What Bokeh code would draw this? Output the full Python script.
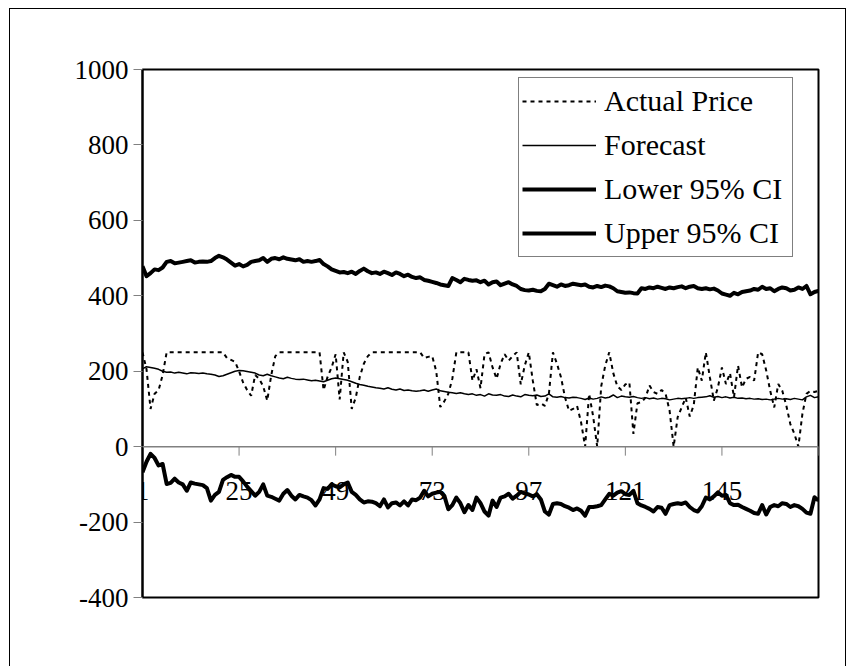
from bokeh.plotting import figure
from bokeh.models import (Range1d, FixedTicker, Legend, LegendItem, Span,
                          ColumnDataSource)
from bokeh.core.properties import value
from bokeh.embed import file_html
from bokeh.resources import INLINE

FONT = "Liberation Serif"

# ---------------- data ----------------
x_tick_labels = ["1", "25", "49", "73", "97", "121", "145"]
y_ticks = [-400, -200, 0, 200, 400, 600, 800, 1000]
y_tick_labels = ["-400", "-200", "0", "200", "400", "600", "800", "1000"]

actual_price = [
    250, 205, 100, 140, 150, 190, 250, 250, 250, 250,
    250, 250, 250, 250, 250, 250, 250, 250, 250, 250,
    250, 235, 230, 225, 200, 170, 150, 135, 190, 180,
    160, 122, 190, 240, 250, 250, 250, 250, 250, 250,
    250, 250, 250, 250, 250, 150, 185, 210, 245, 125,
    250, 225, 100, 130, 185, 220, 240, 250, 250, 250,
    250, 250, 250, 250, 250, 250, 250, 250, 250, 250,
    235, 238, 240, 200, 105, 120, 140, 180, 250, 250,
    250, 250, 175, 205, 155, 245, 250, 210, 180, 220,
    245, 228, 240, 250, 165, 215, 250, 175, 110, 115,
    108, 140, 250, 220, 184, 131, 95, 100, 108, 64,
    0, 140, 80, 0, 160, 215, 250, 195, 160, 150,
    165, 170, 34, 115, 118, 130, 162, 145, 140, 150,
    140, 95, 0, 78, 104, 130, 80, 110, 210, 175,
    250, 184, 122, 157, 210, 166, 195, 131, 215, 157,
    180, 185, 175, 250, 245, 202, 148, 104, 166, 148,
    109, 60, 34, 0, 87, 140, 148, 145, 148,
]

forecast = [
    206, 212, 210, 208, 205, 200, 197, 198, 195, 197,
    195, 193, 196, 195, 194, 195, 193, 192, 190, 186,
    188, 192, 196, 200, 202, 201, 199, 197, 195, 190,
    188, 192, 188, 185, 182, 180, 184, 181, 179, 178,
    179, 177, 175, 176, 174, 172, 176, 180, 182, 180,
    178, 176, 172, 168, 165, 163, 160, 158, 156, 155,
    153, 156, 152, 150, 153, 149, 150, 148, 147, 148,
    150, 147, 150, 153, 148, 146, 144, 143, 141, 143,
    140, 138, 140, 136, 138, 134, 140, 137, 136, 138,
    134, 133, 137, 134, 132, 138, 136, 135, 137, 133,
    134, 140, 132, 131, 133, 130, 129, 131, 130, 128,
    125, 129, 126, 128, 132, 129, 131, 137, 130, 134,
    132, 131, 133, 130, 128, 130, 127, 129, 126, 128,
    127, 124, 126, 128, 127, 128, 130, 128, 130, 131,
    132, 135, 131, 133, 130, 132, 129, 131, 128, 129,
    127, 128, 126, 127, 125, 126, 124, 126, 128, 126,
    127, 125, 128, 126, 124, 132, 136, 130, 132,
]

upper_ci = [
    478, 452, 460, 470, 468, 475, 490, 492, 486, 488,
    490, 492, 494, 488, 490, 491, 490, 492, 500, 506,
    502, 496, 488, 480, 484, 478, 482, 490, 492, 494,
    500, 490, 498, 500, 497, 502, 498, 496, 494, 497,
    490, 492, 490, 492, 495, 484, 478, 470, 466, 462,
    463, 460, 464, 458, 466, 472, 465, 460, 462, 458,
    464, 460, 455, 462, 458, 452, 456, 450, 447, 449,
    442, 440, 437, 434, 430, 428, 426, 447, 442, 436,
    445, 442, 440, 441, 436, 440, 430, 436, 438, 428,
    432, 436, 430, 426, 418, 415, 414, 416, 413, 412,
    418, 432, 428, 424, 430, 426, 428, 432, 430, 428,
    430, 424, 422, 426, 423, 427, 425, 420, 412, 410,
    408, 409, 407, 406, 420, 418, 422, 420, 424, 421,
    418, 422, 420, 423, 425, 420, 424, 426, 420, 418,
    420, 417, 419, 414, 406, 403, 400, 408, 404, 410,
    412, 414, 418, 416, 424, 418, 420, 412, 418, 422,
    420, 414, 416, 422, 418, 426, 404, 410, 413,
]

lower_ci = [
    -68, -40, -19, -30, -50, -46, -99, -96, -85, -95,
    -100, -117, -95, -98, -100, -102, -110, -143, -128, -120,
    -88, -81, -75, -80, -80, -92, -106, -118, -130, -120,
    -100, -130, -133, -138, -143, -125, -115, -130, -140, -128,
    -132, -135, -142, -156, -140, -110, -112, -100, -105, -108,
    -100, -95, -120, -128, -140, -148, -145, -146, -150, -158,
    -140, -161, -150, -148, -156, -145, -156, -140, -142, -135,
    -117, -132, -125, -122, -120, -130, -166, -155, -135, -150,
    -174, -155, -168, -135, -150, -172, -183, -143, -160, -135,
    -132, -125, -138, -130, -120, -124, -127, -132, -126, -140,
    -172, -180, -152, -150, -152, -158, -162, -168, -164, -170,
    -183, -160, -160, -158, -155, -140, -125, -130, -122, -118,
    -126, -128, -117, -150, -156, -160, -165, -172, -160, -162,
    -178, -155, -152, -150, -152, -148, -160, -168, -172, -158,
    -135, -140, -132, -121, -130, -128, -150, -155, -154, -160,
    -165, -170, -176, -178, -155, -180, -160, -155, -158, -150,
    -152, -160, -155, -158, -165, -175, -178, -134, -143,
]

n = len(actual_price)
periods = list(range(1, n + 1))

# ---------------- figure ----------------
OX, OY = 10, 9              # offset of the chart box inside the window
W, H = 835, 657             # chart box size
ML, MR, MT, MB = 132, 27, 60, 69
Y0, Y1 = -400, 1000
frame_h = H - MT - MB

p = figure(width=W, height=H, output_backend="svg", toolbar_location=None,
           x_range=Range1d(1, n), y_range=Range1d(Y0, Y1),
           x_axis_location=None,
           min_border_left=ML, min_border_right=MR,
           min_border_top=MT, min_border_bottom=MB)
p.margin = (OY, 0, 0, OX)
p.styles = {"outline": "1px solid black"}
p.background_fill_color = "white"
p.border_fill_color = "white"
p.grid.visible = False
p.outline_line_color = "black"
p.outline_line_width = 2

yax = p.yaxis[0]
yax.ticker = FixedTicker(ticks=y_ticks)
yax.major_label_overrides = {t: s for t, s in zip(y_ticks, y_tick_labels)}
yax.major_label_text_font = FONT
yax.major_label_text_font_size = "27px"
yax.major_label_text_color = "black"
yax.axis_line_color = "black"
yax.axis_line_width = 2
yax.major_tick_line_color = "#808080"
yax.major_tick_out = 9
yax.major_tick_in = 0
yax.minor_tick_line_color = None
yax.major_label_standoff = 5

# category axis drawn at y = 0
tick_pos = [int(s) for s in x_tick_labels]
tick_len = 9 * (Y1 - Y0) / frame_h
p.text(x=tick_pos, y=[0] * len(tick_pos), text=x_tick_labels,
       text_font=value(FONT), text_font_size="27px", text_color="black",
       text_align="center", text_baseline="middle", y_offset=44)
inner_ticks = tick_pos[1:] + [n]
p.segment(x0=inner_ticks, x1=inner_ticks, y0=[0] * len(inner_ticks),
          y1=[-tick_len] * len(inner_ticks), line_color="#808080", line_width=1)
p.add_layout(Span(location=0, dimension="width", line_color="#808080", line_width=1.5))

src = ColumnDataSource(dict(x=periods, actual=actual_price, fc=forecast,
                            lo=lower_ci, up=upper_ci))
r_act = p.line("x", "actual", source=src, line_color="black", line_width=2,
               line_dash="4 4")
r_fc = p.line("x", "fc", source=src, line_color="black", line_width=1.5)
r_lo = p.line("x", "lo", source=src, line_color="black", line_width=4,
              line_join="round")
r_up = p.line("x", "up", source=src, line_color="black", line_width=4,
              line_join="round")

legend = Legend(items=[
    LegendItem(label="Actual Price", renderers=[r_act]),
    LegendItem(label="Forecast", renderers=[r_fc]),
    LegendItem(label="Lower 95% CI", renderers=[r_lo]),
    LegendItem(label="Upper 95% CI", renderers=[r_up]),
], location=(376, 340))
legend.label_text_font = FONT
legend.label_text_font_size = "30px"
legend.label_text_color = "black"
legend.glyph_width = 74
legend.glyph_height = 40
legend.label_height = 40
legend.label_width = 185
legend.label_standoff = 8
legend.spacing = 4
legend.padding = 3
legend.margin = 0
legend.border_line_color = "black"
legend.border_line_width = 1
legend.background_fill_color = "white"
legend.background_fill_alpha = 1
p.add_layout(legend)

open("out.html", "w").write(file_html(p, INLINE))
